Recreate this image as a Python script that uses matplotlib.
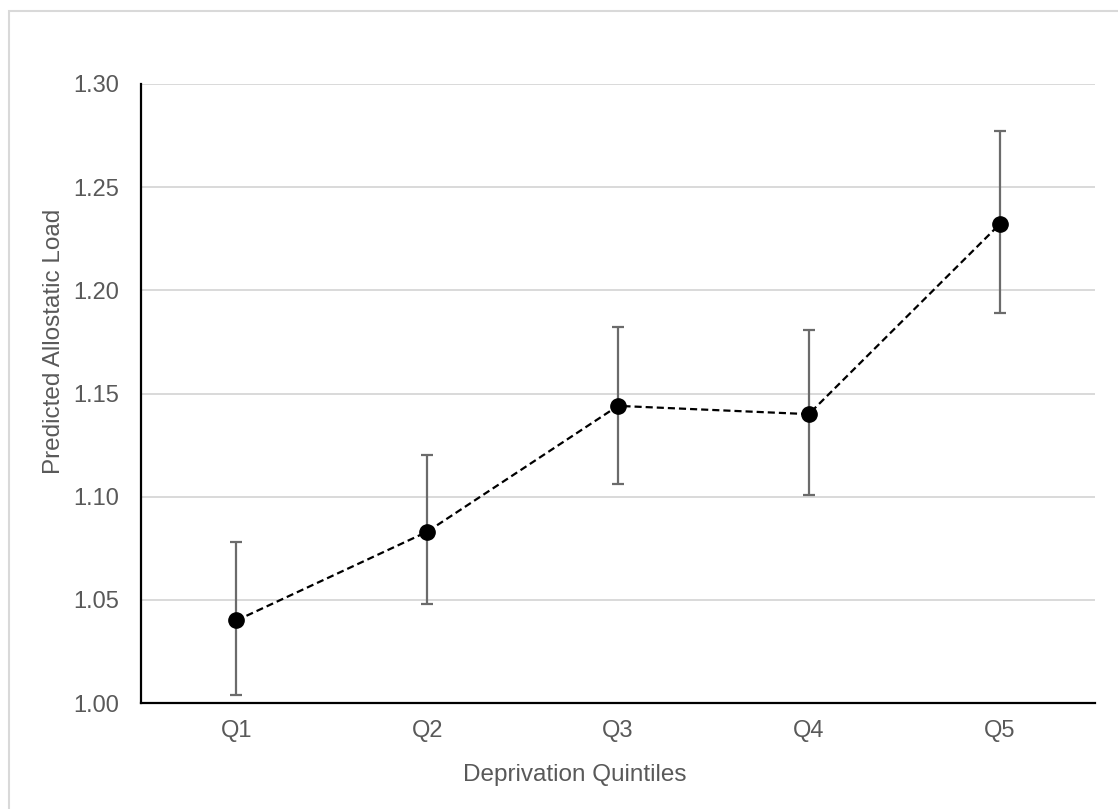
import matplotlib.pyplot as plt
from matplotlib.patches import Rectangle

plt.rcParams['font.family'] = ['Liberation Sans', 'DejaVu Sans']

# Predicted allostatic load by deprivation quintile, with 95% CI
quintiles = ["Q1", "Q2", "Q3", "Q4", "Q5"]
predicted = [1.040, 1.083, 1.144, 1.140, 1.232]
ci_lower = [1.004, 1.048, 1.106, 1.101, 1.189]
ci_upper = [1.078, 1.120, 1.182, 1.181, 1.277]

yticks = [1.00, 1.05, 1.10, 1.15, 1.20, 1.25, 1.30]

text_grey = "#595959"
bar_grey = "#6b6b6b"
grid_grey = "#d9d9d9"

fig = plt.figure(figsize=(11.18, 8.09), dpi=100)

# Chart border
fig.patches.append(Rectangle((9 / 1118, -0.05), 1.2, 1 - 11 / 809 + 0.05,
                             transform=fig.transFigure, fill=False,
                             edgecolor=grid_grey, linewidth=1.5))

ax = fig.add_axes([141 / 1118, 1 - 703 / 809, (1095 - 141) / 1118, (703 - 84) / 809])

x = list(range(len(quintiles)))
err_low = [p - lo for p, lo in zip(predicted, ci_lower)]
err_high = [hi - p for p, hi in zip(predicted, ci_upper)]

# Confidence intervals
ax.errorbar(x, predicted, yerr=[err_low, err_high], fmt="none",
            ecolor=bar_grey, elinewidth=1.6, capsize=4.5, capthick=1.6, zorder=3)

# Dashed trend line with markers
ax.plot(x, predicted, color="black", linestyle=(0, (3.2, 1.8)), linewidth=1.6, zorder=4)
ax.plot(x, predicted, "o", color="black", markersize=11, zorder=5)

ax.set_xlim(-0.5, len(quintiles) - 0.5)
ax.set_ylim(1.00, 1.30)
ax.set_xticks(x)
ax.set_xticklabels(quintiles)
ax.set_yticks(yticks)
ax.set_yticklabels([f"{t:.2f}" for t in yticks])

ax.grid(axis="y", color=grid_grey, linewidth=1.4, zorder=0)
ax.set_axisbelow(True)

for side in ["top", "right"]:
    ax.spines[side].set_visible(False)
for side in ["left", "bottom"]:
    ax.spines[side].set_color("black")
    ax.spines[side].set_linewidth(1.6)

ax.tick_params(axis="both", length=0, labelsize=17, colors=text_grey)
ax.tick_params(axis="y", pad=16)
ax.tick_params(axis="x", pad=12)

ax.set_xlabel("Deprivation Quintiles", fontsize=17.5, color=text_grey)
ax.set_ylabel("Predicted Allostatic Load", fontsize=17.5, color=text_grey)
ax.xaxis.set_label_coords(0.455, -0.099)
ax.yaxis.set_label_coords(-0.080, 0.585)

fig.savefig("out.png", dpi=100)
